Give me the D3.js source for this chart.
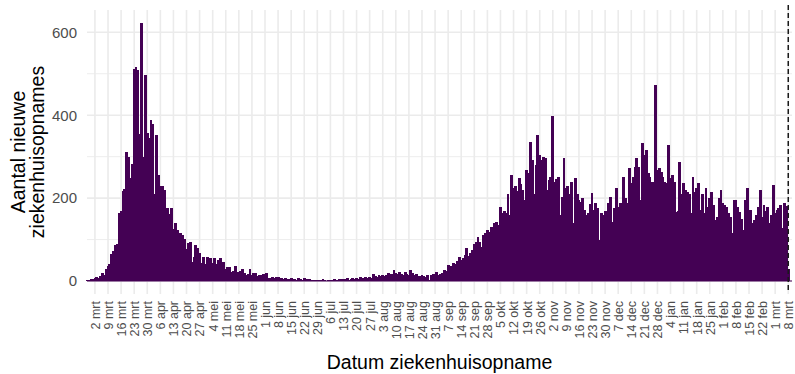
<!DOCTYPE html>
<html>
<head>
<meta charset="utf-8">
<script src="https://cdn.jsdelivr.net/npm/d3@7"></script>
<style>
  html, body { margin: 0; padding: 0; background: #ffffff; }
  svg { display: block; font-family: "Liberation Sans", Arial, Helvetica, sans-serif; }
</style>
</head>
<body>
<svg id="chart" width="795" height="374"></svg>
<script>
// Eerste dag met gegevens (27 februari 2020), daarna één waarde per dag
const firstDay = Date.UTC(2020, 1, 27);

// Nieuwe ziekenhuisopnames per dag, per week vanaf maandag 2 maart
const preWeek = [2, 3, 4, 5];
const admissions = [
  7, 9, 8, 12, 20, 14, 30,
  35, 42, 65, 72, 88, 90, 165,
  168, 218, 222, 310, 300, 248, 283,
  512, 516, 508, 355, 622, 300, 498,
  358, 345, 388, 378, 210, 352, 255,
  230, 228, 220, 145, 175, 162, 175,
  125, 140, 122, 85, 115, 110, 102,
  78, 92, 95, 45, 58, 86, 80,
  68, 44, 58, 42, 57, 37, 55,
  43, 55, 40, 50, 55, 35, 47,
  30, 33, 33, 22, 25, 35, 18,
  22, 25, 30, 20, 15, 18, 30,
  14, 20, 20, 12, 14, 15, 18,
  10, 20, 8, 6, 9, 7, 10,
  9, 6, 8, 5, 7, 4, 5,
  6, 4, 5, 3, 6, 4, 3,
  6, 5, 3, 4, 2, 3, 2,
  2, 3, 2, 4, 2, 1, 2,
  3, 2, 4, 3, 2, 5, 4,
  5, 4, 6, 3, 5, 6, 4,
  7, 5, 9, 8, 6, 10, 7,
  9, 6, 17, 12, 10, 14, 12,
  14, 12, 15, 20, 16, 18, 27,
  20, 17, 22, 18, 14, 22, 17,
  15, 27, 20, 14, 17, 13, 12,
  14, 12, 10, 15, 3, 14, 17,
  18, 22, 15, 18, 20, 27, 25,
  39, 30, 35, 43, 40, 48, 59,
  50, 55, 62, 79, 60, 67, 75,
  89, 95, 107, 95, 83, 110, 115,
  123, 118, 131, 125, 140, 143, 135,
  179, 163, 170, 165, 211, 159, 256,
  224, 230, 216, 248, 235, 220, 195,
  268, 260, 336, 292, 211, 280, 352,
  304, 292, 300, 296, 220, 244, 250,
  398, 240, 245, 250, 159, 203, 296,
  224, 230, 211, 240, 139, 248, 210,
  195, 191, 200, 171, 159, 163, 185,
  213, 171, 187, 175, 99, 163, 159,
  170, 167, 187, 203, 143, 175, 224,
  179, 187, 179, 252, 200, 187, 272,
  236, 250, 276, 296, 276, 195, 332,
  304, 316, 260, 250, 240, 240, 473,
  268, 272, 264, 250, 240, 236, 328,
  248, 255, 240, 167, 170, 288, 211,
  236, 220, 215, 211, 163, 252, 215,
  225, 236, 171, 211, 163, 224, 179,
  200, 215, 183, 147, 155, 200, 220,
  187, 183, 179, 165, 155, 115, 195,
  195, 179, 167, 150, 123, 195, 224,
  167, 171, 139, 147, 160, 179, 220,
  155, 183, 170, 179, 139, 159, 232,
  163, 171, 175, 183, 127, 187, 180
];
const lastDay = [30];

// Wekelijkse labels op de x-as (maandagen)
const tickLabels = [
  "2 mrt", "9 mrt", "16 mrt", "23 mrt", "30 mrt",
  "6 apr", "13 apr", "20 apr", "27 apr",
  "4 mei", "11 mei", "18 mei", "25 mei",
  "1 jun", "8 jun", "15 jun", "22 jun", "29 jun",
  "6 jul", "13 jul", "20 jul", "27 jul",
  "3 aug", "10 aug", "17 aug", "24 aug", "31 aug",
  "7 sep", "14 sep", "21 sep", "28 sep",
  "5 okt", "12 okt", "19 okt", "26 okt",
  "2 nov", "9 nov", "16 nov", "23 nov", "30 nov",
  "7 dec", "14 dec", "21 dec", "28 dec",
  "4 jan", "11 jan", "18 jan", "25 jan",
  "1 feb", "8 feb", "15 feb", "22 feb",
  "1 mrt", "8 mrt"
];
const firstTick = Date.UTC(2020, 2, 2);
const yTicks = [0, 200, 400, 600];
const yGrid = [0, 100, 200, 300, 400, 500, 600];
const cutoffDate = Date.UTC(2021, 2, 8);

const DAY = 86400000;
const values = preWeek.concat(admissions, lastDay);
const rows = values.map((v, i) => ({ date: new Date(firstDay + i * DAY), value: v }));
const tickDates = tickLabels.map((_, i) => new Date(firstTick + i * 7 * DAY));

const purple = "#440154";
const panel = { left: 87, right: 792, top: 10, bottom: 294 };

const svg = d3.select("#chart");

const x = d3.scaleUtc()
  .domain([new Date(Date.UTC(2020, 1, 26, 18)), new Date(Date.UTC(2021, 2, 10))])
  .range([panel.left, panel.right]);

const y = d3.scaleLinear()
  .domain([-31.4, 653.8])
  .range([panel.bottom, panel.top]);

const half = DAY / 2;

// Rasterlijnen
const grid = svg.append("g");
grid.selectAll("line.h")
  .data(yGrid)
  .join("line")
  .attr("x1", panel.left).attr("x2", panel.right)
  .attr("y1", d => y(d)).attr("y2", d => y(d))
  .attr("stroke", "#ebebeb")
  .attr("stroke-width", d => (d % 200 === 0 ? 1.6 : 0.9));
grid.selectAll("line.v")
  .data(tickDates)
  .join("line")
  .attr("x1", d => x(d)).attr("x2", d => x(d))
  .attr("y1", panel.top).attr("y2", panel.bottom)
  .attr("stroke", "#ebebeb")
  .attr("stroke-width", 1.6);

// Staafjes per dag (randen op hele pixels, zodat er geen naden ontstaan)
svg.append("g")
  .attr("shape-rendering", "crispEdges")
  .selectAll("rect")
  .data(rows)
  .join("rect")
  .attr("x", d => Math.floor(x(new Date(+d.date - half))))
  .attr("width", d => Math.ceil(x(new Date(+d.date + half))) - Math.floor(x(new Date(+d.date - half))))
  .attr("y", d => Math.round(y(d.value)))
  .attr("height", d => Math.round(y(0)) - Math.round(y(d.value)))
  .attr("fill", purple);

// Nullijn
svg.append("line")
  .attr("x1", panel.left).attr("x2", panel.right)
  .attr("y1", y(0)).attr("y2", y(0))
  .attr("stroke", purple)
  .attr("stroke-width", 1);

// Stippellijn bij de laatste datum
svg.append("line")
  .attr("x1", x(new Date(cutoffDate))).attr("x2", x(new Date(cutoffDate)))
  .attr("y1", panel.top - 5).attr("y2", panel.bottom - 3)
  .attr("stroke", "#1a1a1a")
  .attr("stroke-width", 1.5)
  .attr("stroke-dasharray", "5,3");

// x-as
const xAxis = d3.axisBottom(x)
  .tickValues(tickDates)
  .tickFormat((d, i) => tickLabels[i])
  .tickSize(0)
  .tickPadding(0);
const gx = svg.append("g")
  .attr("transform", `translate(0,${panel.bottom + 7})`)
  .call(xAxis);
gx.select(".domain").remove();
gx.selectAll("text")
  .attr("transform", "rotate(-90)")
  .attr("x", 0)
  .attr("y", 0)
  .attr("dy", "0.35em")
  .attr("text-anchor", "end")
  .attr("fill", "#4d4d4d")
  .style("font-size", "12.5px")
  .style("font-family", "'Liberation Sans', Arial, sans-serif");

// y-as
const yAxis = d3.axisLeft(y)
  .tickValues(yTicks)
  .tickSize(0)
  .tickPadding(10);
const gy = svg.append("g")
  .attr("transform", `translate(${panel.left},0)`)
  .call(yAxis);
gy.select(".domain").remove();
gy.selectAll("text")
  .attr("fill", "#4d4d4d")
  .style("font-size", "15px")
  .style("font-family", "'Liberation Sans', Arial, sans-serif");

// Astitels
svg.append("text")
  .attr("x", (panel.left + panel.right) / 2)
  .attr("y", 369)
  .attr("text-anchor", "middle")
  .attr("fill", "#000")
  .style("font-size", "19.5px")
  .text("Datum ziekenhuisopname");

const yTitle = svg.append("text")
  .attr("transform", `translate(0,${(panel.top + panel.bottom) / 2}) rotate(-90)`)
  .attr("text-anchor", "middle")
  .attr("fill", "#000")
  .style("font-size", "19.5px");
yTitle.append("tspan").attr("x", 0).attr("y", 25).text("Aantal nieuwe");
yTitle.append("tspan").attr("x", 0).attr("y", 44).text("ziekenhuisopnames");
</script>
</body>
</html>
